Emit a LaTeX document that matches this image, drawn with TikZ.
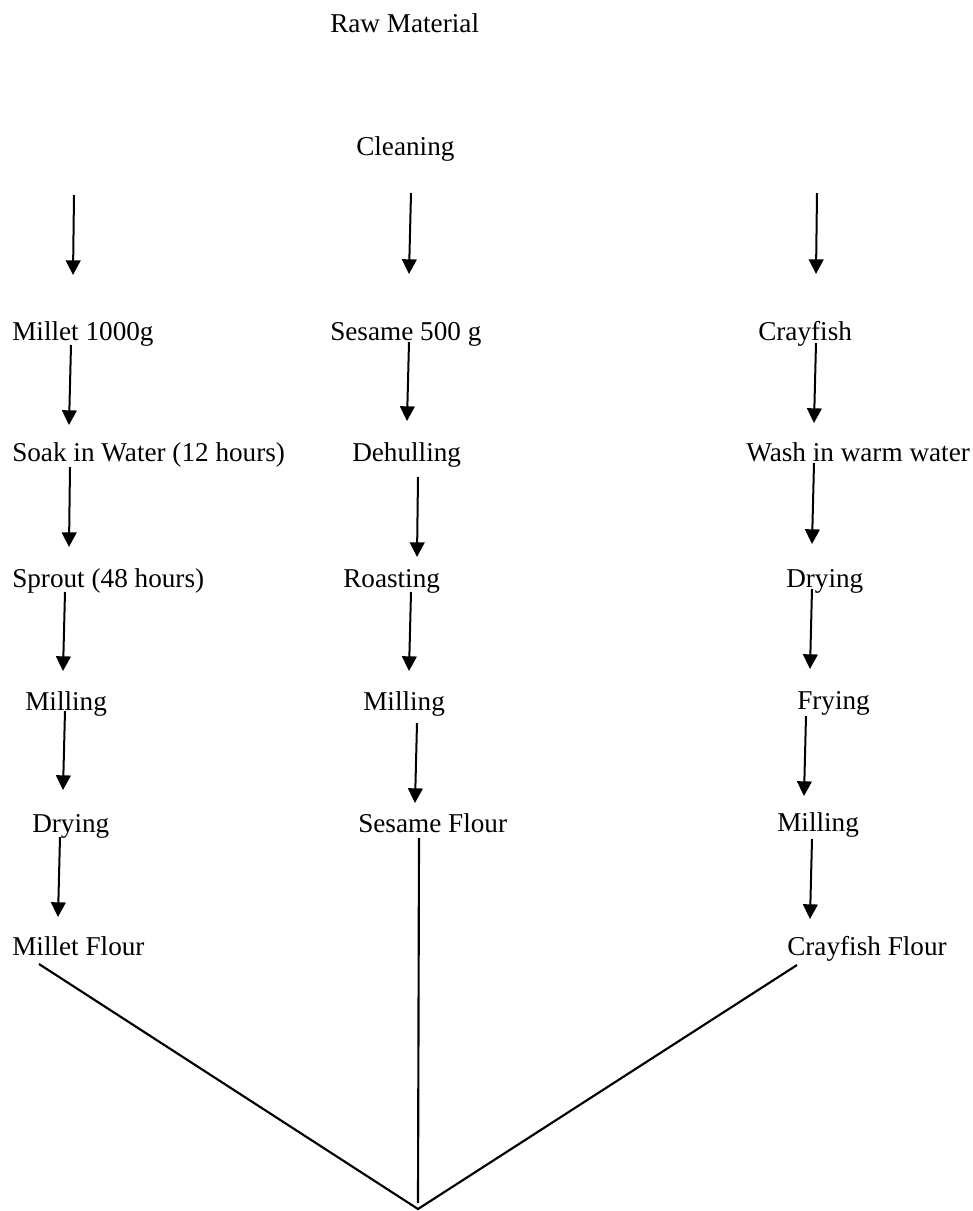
\documentclass[tikz,border=0pt]{standalone}
\usepackage{fontspec}
\setmainfont{Liberation Serif}
\usetikzlibrary{arrows.meta}
\begin{document}
\begin{tikzpicture}[x=0.75pt,y=-0.75pt,
  lbl/.style={anchor=base west,inner sep=0pt,font=\fontsize{20.4pt}{24pt}\selectfont},
  arr/.style={line width=1.5pt,-{Triangle[length=11pt,width=11pt]}},
  ln/.style={line width=1.6pt}]
\useasboundingbox (0,0) rectangle (973,1211);
% texts
\node[lbl] (raw) at (330,32) {Raw Material};
\node[lbl] (clean) at (356,155) {Cleaning};
\node[lbl] (m1) at (12,340) {Millet 1000g};
\node[lbl] (s1) at (330,340) {Sesame 500 g};
\node[lbl] (c1) at (758,340) {Crayfish};
\node[lbl] (m2) at (12,461) {Soak in Water (12 hours)};
\node[lbl] (s2) at (352,461) {Dehulling};
\node[lbl] (c2) at (746,461) {Wash in warm water};
\node[lbl] (m3) at (12,587) {Sprout (48 hours)};
\node[lbl] (s3) at (343,587) {Roasting};
\node[lbl] (c3) at (786,587) {Drying};
\node[lbl] (m4) at (25,710) {Milling};
\node[lbl] (s4) at (363,710) {Milling};
\node[lbl] (c4) at (797,709) {Frying};
\node[lbl] (m5) at (32,832) {Drying};
\node[lbl] (s5) at (358,832) {Sesame Flour};
\node[lbl] (c5) at (777,831) {Milling};
\node[lbl] (m6) at (12,955) {Millet Flour};
\node[lbl] (c6) at (787,955) {Crayfish Flour};
% coordinates
\coordinate (ta1) at (74,195);  \coordinate (tb1) at (73,275);
\coordinate (ta2) at (411,193); \coordinate (tb2) at (409,274);
\coordinate (ta3) at (817,193); \coordinate (tb3) at (816,274);
\coordinate (join) at (418,1209);
% column 1
\draw[arr] (ta1) -- (tb1);
\draw[arr] (71,345) coordinate (m1o) -- (69,425) coordinate (m2i);
\draw[arr] (70,467) coordinate (m2o) -- (69,547) coordinate (m3i);
\draw[arr] (65,592) coordinate (m3o) -- (63,671) coordinate (m4i);
\draw[arr] (65,711) coordinate (m4o) -- (63,790) coordinate (m5i);
\draw[arr] (60,837) coordinate (m5o) -- (58,917) coordinate (m6i);
% column 2
\draw[arr] (ta2) -- (tb2);
\draw[arr] (409,342) coordinate (s1o) -- (407,421) coordinate (s2i);
\draw[arr] (418,477) coordinate (s2o) -- (417,557) coordinate (s3i);
\draw[arr] (411,592) coordinate (s3o) -- (409,671) coordinate (s4i);
\draw[arr] (417,723) coordinate (s4o) -- (415,803) coordinate (s5i);
% column 3
\draw[arr] (ta3) -- (tb3);
\draw[arr] (816,343) coordinate (c1o) -- (814,423) coordinate (c2i);
\draw[arr] (814,463) coordinate (c2o) -- (812,544) coordinate (c3i);
\draw[arr] (812,589) coordinate (c3o) -- (810,669) coordinate (c4i);
\draw[arr] (806,716) coordinate (c4o) -- (804,796) coordinate (c5i);
\draw[arr] (812,839) coordinate (c5o) -- (810,919) coordinate (c6i);
% bottom join
\draw[ln] (419,838) coordinate (s5o) -- (418,1203);
\draw[ln] (39,964) coordinate (m6o) -- (join) -- (797,965) coordinate (c6o);
\end{tikzpicture}
\end{document}
